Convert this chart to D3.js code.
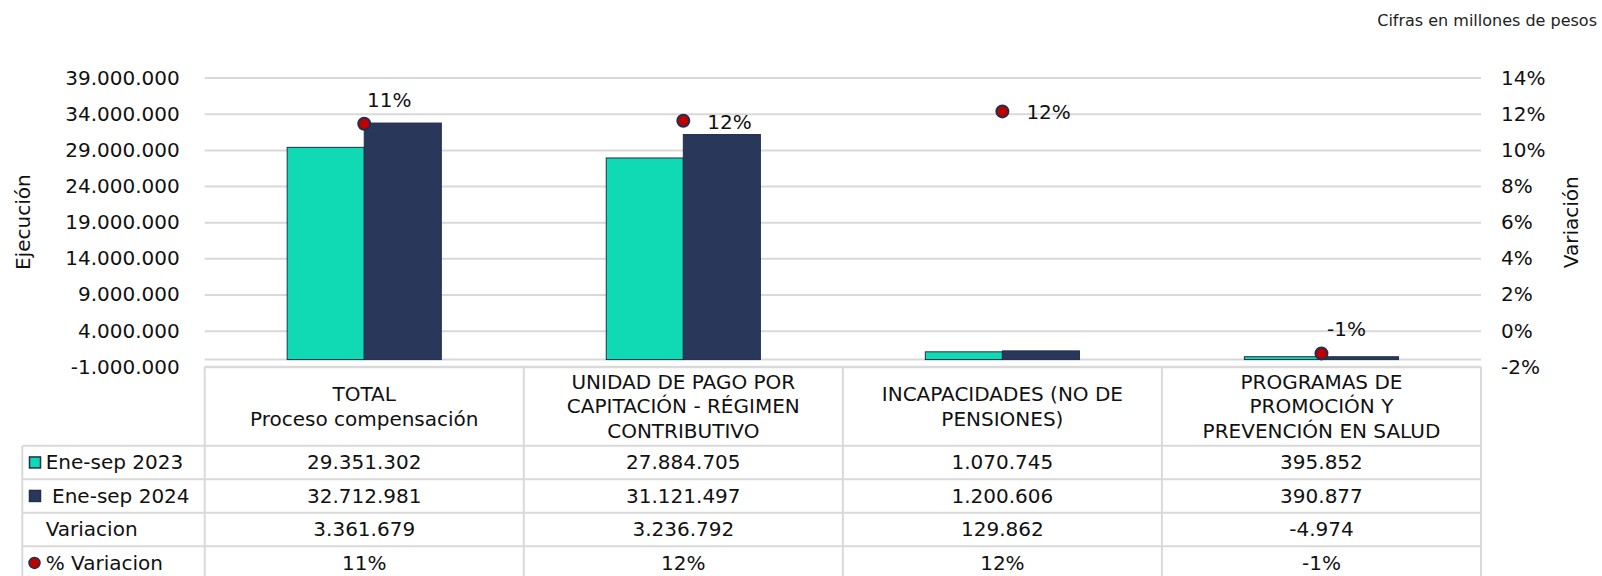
<!DOCTYPE html>
<html>
<head>
<meta charset="utf-8">
<script src="https://cdn.jsdelivr.net/npm/d3@7"></script>
<style>
  body { margin: 0; background: #fff; }
  svg { display: block; font-family: 'DejaVu Sans', Verdana, sans-serif; }
</style>
</head>
<body>
<div class="chart"></div>
<script>
const categories = ['TOTAL', 'UPC', 'INCAPACIDADES', 'PROGRAMAS']
const headerLines = [
  ['TOTAL', 'Proceso compensación'],
  ['UNIDAD DE PAGO POR', 'CAPITACIÓN - RÉGIMEN', 'CONTRIBUTIVO'],
  ['INCAPACIDADES (NO DE', 'PENSIONES)'],
  ['PROGRAMAS DE', 'PROMOCIÓN Y', 'PREVENCIÓN EN SALUD']
]
const ene2023 = [29351302, 27884705, 1070745, 395852]
const ene2024 = [32712981, 31121497, 1200606, 390877]
const variacion = [3361679, 3236792, 129862, -4974]
const pctVariacion = [0.1145, 0.1161, 0.1213, -0.0126]
const leftTicks = [-1000000, 4000000, 9000000, 14000000, 19000000, 24000000, 29000000, 34000000, 39000000]
const rightTicks = [-0.02, 0, 0.02, 0.04, 0.06, 0.08, 0.10, 0.12, 0.14]
const rowLabels = ['Ene-sep 2023', ' Ene-sep 2024', 'Variacion', '% Variacion']
const labelSide = ['above', 'right', 'right', 'above']

const TEAL = '#0fdab4'
const NAVY = '#28375a'
const EDGE = '#1f2f4f'
const DOT = '#c00000'
const GRID = '#d9d9d9'
const INK = '#111'

const W = 1602
const H = 576
const plot = { left: 204.7, right: 1481, top: 77.6, bottom: 366.8 }
const headerBottom = 445.7
const rowH = 33.5
const legendLeft = 22.3

const locale = d3.formatLocale({ decimal: ',', thousands: '.', grouping: [3], currency: ['$', ''], minus: '-' })
const num = locale.format(',d')
const pct = locale.format('.0%')

const svg = d3.select('.chart').append('svg')
  .attr('width', W)
  .attr('height', H)

const x = d3.scaleBand()
  .domain(categories)
  .range([plot.left, plot.right])
const xs = d3.scaleBand()
  .domain(['2023', '2024'])
  .range([0, x.bandwidth()])
  .paddingOuter(1.07)
const y = d3.scaleLinear()
  .domain([-1000000, 39000000])
  .range([plot.bottom, plot.top])
const y2 = d3.scaleLinear()
  .domain([-0.02, 0.14])
  .range([plot.bottom, plot.top])

// left axis + gridlines
const gLeft = svg.append('g')
  .attr('transform', `translate(${plot.left},0)`)
  .call(d3.axisLeft(y).tickValues(leftTicks).tickFormat(num)
    .tickSize(-(plot.right - plot.left)).tickPadding(25))
gLeft.select('.domain').remove()
gLeft.selectAll('.tick line').attr('stroke', GRID).attr('stroke-width', 2)
gLeft.selectAll('.tick text').attr('fill', INK).attr('font-size', 20)
  .attr('font-family', "'DejaVu Sans', Verdana, sans-serif")

// right axis
const gRight = svg.append('g')
  .attr('transform', `translate(${plot.right},0)`)
  .call(d3.axisRight(y2).tickValues(rightTicks).tickFormat(pct).tickSize(0).tickPadding(20))
gRight.select('.domain').remove()
gRight.selectAll('.tick text').attr('fill', INK).attr('font-size', 20)
  .attr('font-family', "'DejaVu Sans', Verdana, sans-serif")

// zero line
svg.append('line')
  .attr('x1', plot.left).attr('x2', plot.right)
  .attr('y1', y(0)).attr('y2', y(0))
  .attr('stroke', GRID).attr('stroke-width', 2)

// bars
const addBars = (values, key, color) => {
  svg.append('g').selectAll('rect')
    .data(values)
    .join('rect')
    .attr('x', (d, i) => x(categories[i]) + xs(key))
    .attr('width', xs.bandwidth())
    .attr('y', d => y(Math.max(0, d)))
    .attr('height', d => Math.abs(y(0) - y(d)))
    .attr('fill', color)
    .attr('stroke', EDGE)
    .attr('stroke-width', 1)
}
addBars(ene2023, '2023', TEAL)
addBars(ene2024, '2024', NAVY)

// % variation dots + labels
const cx = i => x(categories[i]) + x.bandwidth() / 2
svg.append('g').selectAll('circle')
  .data(pctVariacion)
  .join('circle')
  .attr('cx', (d, i) => cx(i))
  .attr('cy', d => y2(d))
  .attr('r', 6)
  .attr('fill', DOT)
  .attr('stroke', EDGE)
  .attr('stroke-width', 2)

svg.append('g').selectAll('text')
  .data(pctVariacion)
  .join('text')
  .attr('x', (d, i) => labelSide[i] === 'above' ? cx(i) + 25 : cx(i) + 24)
  .attr('y', (d, i) => labelSide[i] === 'above' ? y2(d) - 17 : y2(d) + 8)
  .attr('text-anchor', (d, i) => labelSide[i] === 'above' ? 'middle' : 'start')
  .attr('font-size', 20)
  .attr('fill', INK)
  .text(d => pct(d))

// axis titles
svg.append('text')
  .attr('transform', `translate(23,${(plot.top + plot.bottom) / 2}) rotate(-90)`)
  .attr('text-anchor', 'middle')
  .attr('dominant-baseline', 'central')
  .attr('font-size', 20)
  .attr('fill', INK)
  .text('Ejecución')
svg.append('text')
  .attr('transform', `translate(1571,${(plot.top + plot.bottom) / 2}) rotate(-90)`)
  .attr('text-anchor', 'middle')
  .attr('dominant-baseline', 'central')
  .attr('font-size', 20)
  .attr('fill', INK)
  .text('Variación')

svg.append('text')
  .attr('x', 1597)
  .attr('y', 26)
  .attr('text-anchor', 'end')
  .attr('font-size', 16)
  .attr('fill', '#222')
  .text('Cifras en millones de pesos')

// data table
const table = svg.append('g')
const rowTop = i => headerBottom + i * rowH
const line = (x1, y1, x2, y2) => table.append('line')
  .attr('x1', x1).attr('y1', y1).attr('x2', x2).attr('y2', y2)
  .attr('stroke', GRID).attr('stroke-width', 2)

line(plot.left, plot.bottom, plot.right, plot.bottom)
for (let i = 0; i < rowLabels.length; i++) line(legendLeft, rowTop(i), plot.right, rowTop(i))
line(legendLeft, headerBottom, legendLeft, H)
categories.forEach(c => line(x(c), plot.bottom, x(c), H))
line(plot.right, plot.bottom, plot.right, H)

// header cells
categories.forEach((c, i) => {
  const lines = headerLines[i]
  const mid = (plot.bottom + headerBottom) / 2
  table.append('text')
    .attr('text-anchor', 'middle')
    .attr('font-size', 20)
    .attr('fill', INK)
    .selectAll('tspan')
    .data(lines)
    .join('tspan')
    .attr('x', cx(i))
    .attr('y', (d, j) => mid + (j - (lines.length - 1) / 2) * 24.5)
    .attr('dominant-baseline', 'central')
    .text(d => d)
})

// value rows
const rows = [ene2023.map(num), ene2024.map(num), variacion.map(num), pctVariacion.map(pct)]
rows.forEach((vals, r) => {
  table.append('g').selectAll('text')
    .data(vals)
    .join('text')
    .attr('x', (d, i) => cx(i))
    .attr('y', rowTop(r) + rowH / 2)
    .attr('dominant-baseline', 'central')
    .attr('text-anchor', 'middle')
    .attr('font-size', 20)
    .attr('fill', INK)
    .text(d => d)

  table.append('text')
    .attr('x', 45.7)
    .attr('y', rowTop(r) + rowH / 2)
    .attr('dominant-baseline', 'central')
    .attr('font-size', 20)
    .attr('fill', INK)
    .attr('xml:space', 'preserve')
    .style('white-space', 'pre')
    .text(rowLabels[r])
})

// legend keys
const keyMid = r => rowTop(r) + rowH / 2
table.append('rect').attr('x', 29.5).attr('y', keyMid(0) - 5.5).attr('width', 11).attr('height', 11)
  .attr('fill', TEAL).attr('stroke', EDGE).attr('stroke-width', 1.5)
table.append('rect').attr('x', 29.5).attr('y', keyMid(1) - 5.5).attr('width', 11).attr('height', 11)
  .attr('fill', NAVY).attr('stroke', EDGE).attr('stroke-width', 1.5)
table.append('circle').attr('cx', 34.5).attr('cy', keyMid(3)).attr('r', 5.5)
  .attr('fill', DOT).attr('stroke', EDGE).attr('stroke-width', 1.5)
</script>
</body>
</html>
